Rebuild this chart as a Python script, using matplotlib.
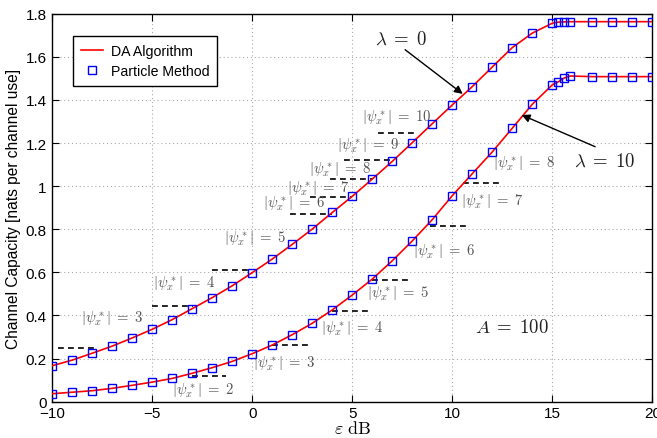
import matplotlib
matplotlib.use('Agg')
import matplotlib.pyplot as plt
from matplotlib.ticker import FormatStrFormatter

plt.rcParams['font.family'] = ['Liberation Sans', 'DejaVu Sans']
plt.rcParams['mathtext.fontset'] = 'cm'

# SNR grid (dB) and capacities for the two lambda values
snr_db = [-10, -9, -8, -7, -6, -5, -4, -3, -2, -1, 0, 1, 2, 3, 4, 5, 6, 7, 8, 9,
          10, 11, 12, 13, 14, 15, 15.3, 15.6, 15.9, 17, 18, 19, 20]
cap_lam0 = [0.167, 0.193, 0.225, 0.258, 0.296, 0.336, 0.381, 0.432, 0.483, 0.538,
            0.599, 0.662, 0.730, 0.801, 0.878, 0.953, 1.033, 1.115, 1.202, 1.290,
            1.377, 1.462, 1.553, 1.643, 1.710, 1.756, 1.761, 1.762, 1.763, 1.763,
            1.763, 1.763, 1.763]
cap_lam10 = [0.037, 0.044, 0.051, 0.062, 0.076, 0.091, 0.108, 0.132, 0.158, 0.187,
             0.223, 0.263, 0.311, 0.364, 0.426, 0.495, 0.569, 0.654, 0.746, 0.845,
             0.956, 1.058, 1.159, 1.269, 1.380, 1.470, 1.484, 1.502, 1.511, 1.508,
             1.508, 1.508, 1.508]

# support-size thresholds: (|psi|, capacity level, x start, x end)
steps_lam0 = [(3, 0.248, -9.7, -7.8), (4, 0.443, -5.0, -2.95), (5, 0.611, -2.0, 0.0),
              (6, 0.870, 1.9, 4.0), (7, 0.951, 2.9, 5.0), (8, 1.032, 3.9, 6.0),
              (9, 1.120, 4.6, 7.0), (10, 1.248, 6.3, 8.2)]
steps_lam10 = [(2, 0.121, -3.0, -1.3), (3, 0.263, 1.0, 3.0), (4, 0.421, 4.0, 5.9),
               (5, 0.566, 6.0, 7.9), (6, 0.817, 8.9, 10.7), (7, 1.015, 10.55, 12.55)]

# label anchors (centre) for the |psi| texts
labels_lam0 = [(3, -7.0, 0.388), (4, -3.4, 0.554), (5, 0.14, 0.763), (6, 2.1, 0.922),
               (7, 3.3, 0.995), (8, 4.4, 1.083), (9, 5.76, 1.191), (10, 7.2, 1.324)]
labels_lam10 = [(2, -2.47, 0.056), (3, 1.6, 0.183), (4, 5.0, 0.342), (5, 7.26, 0.504),
                (6, 9.6, 0.70), (7, 12.0, 0.933), (8, 13.6, 1.111)]

fig = plt.figure(figsize=(6.57, 4.39), dpi=100)
ax = fig.add_axes([0.0796, 0.0827, 0.9133, 0.8838])

ax.plot(snr_db, cap_lam0, '-', color='red', lw=1.2, label='DA Algorithm', zorder=3)
ax.plot(snr_db, cap_lam10, '-', color='red', lw=1.2, zorder=3)
ax.plot(snr_db, cap_lam0, 's', mfc='none', mec='blue', ms=6, mew=1.0,
        label='Particle Method', zorder=4)
ax.plot(snr_db, cap_lam10, 's', mfc='none', mec='blue', ms=6, mew=1.0, zorder=4)

for steps in (steps_lam0, steps_lam10):
    for _, lvl, x0, x1 in steps:
        ax.plot([x0, x1], [lvl, lvl], color='black', lw=1.2, ls=(0, (3.5, 2.5)), zorder=2)

for labels in (labels_lam0, labels_lam10):
    for n, lx, ly in labels:
        ax.text(lx, ly, r'$|\psi_x^*|\;=\;%d$' % n, fontsize=10.6, color='#555555',
                ha='center', va='center', zorder=5)

# lambda labels with arrows pointing at the curves
arrow_kw = dict(arrowstyle='-|>', color='black', lw=1.0, shrinkA=0, shrinkB=0,
                mutation_scale=12)
ax.text(7.45, 1.683, r'$\lambda\;=\;0$', fontsize=13.5, color='#222222',
        ha='center', va='center')
ax.annotate('', xy=(10.52, 1.428), xytext=(7.64, 1.633), arrowprops=arrow_kw)
ax.text(17.6, 1.118, r'$\lambda\;=\;10$', fontsize=13.5, color='#222222',
        ha='center', va='center')
ax.annotate('', xy=(13.47, 1.330), xytext=(17.14, 1.183), arrowprops=arrow_kw)
ax.text(12.96, 0.345, r'$A\;=\;100$', fontsize=13.5, color='#222222',
        ha='center', va='center')

ax.set_xlim(-10, 20)
ax.set_ylim(0, 1.8)
ax.set_xticks([-10, -5, 0, 5, 10, 15, 20])
ax.set_yticks([0, 0.2, 0.4, 0.6, 0.8, 1.0, 1.2, 1.4, 1.6, 1.8])
ax.yaxis.set_major_formatter(FormatStrFormatter('%g'))
ax.tick_params(direction='in', top=True, right=True, length=5, width=0.8,
               labelsize=11, pad=4)
ax.tick_params(axis='x', pad=3)
ax.grid(True, color='#aaaaaa', ls=(0, (1, 2.5)), lw=0.8)
for sp in ax.spines.values():
    sp.set_linewidth(1.0)

ax.set_xlabel(r'$\varepsilon\ \mathrm{dB}$', fontsize=13, labelpad=0)
ax.set_ylabel('Channel Capacity [nats per channel use]', fontsize=11.2, labelpad=3)

leg = ax.legend(loc='upper left', bbox_to_anchor=(0.0345, 0.9425), borderaxespad=0,
                fontsize=10.2, fancybox=False, framealpha=1, edgecolor='black',
                borderpad=0.55, handlelength=1.6, handletextpad=0.5, labelspacing=0.45)
leg.get_frame().set_linewidth(1.0)

fig.savefig('out.png', dpi=100)
